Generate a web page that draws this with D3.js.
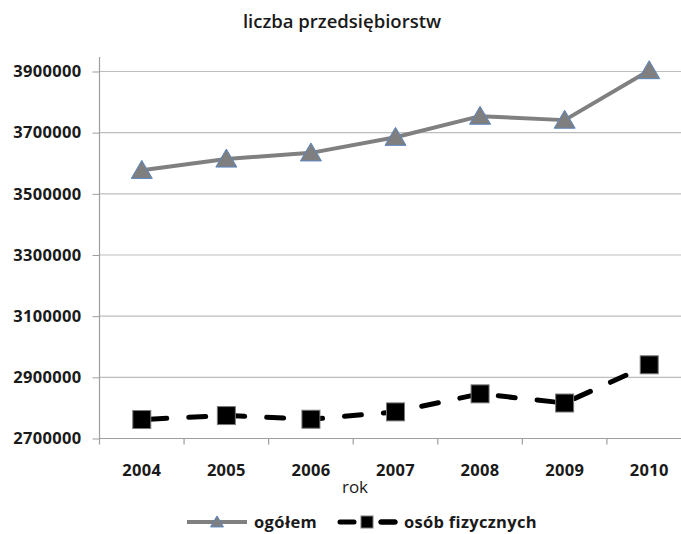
<!DOCTYPE html>
<html>
<head>
<meta charset="utf-8">
<script src="https://cdn.jsdelivr.net/npm/d3@7"></script>
<style>
  html, body { margin: 0; padding: 0; background: #fff; }
  svg { display: block; }
  text { font-family: "Open Sans", "Liberation Sans", sans-serif; fill: #1a1a1a; }
</style>
</head>
<body>
<svg id="chart" width="681" height="534"></svg>
<script>
const years = ["2004", "2005", "2006", "2007", "2008", "2009", "2010"];
const ogolem = [3577000, 3614000, 3634000, 3685000, 3754000, 3741000, 3903000];
const osobFizycznych = [2762000, 2775000, 2763000, 2787000, 2846000, 2816000, 2941000];
const yTicks = [2700000, 2900000, 3100000, 3300000, 3500000, 3700000, 3900000];
const title = "liczba przedsiębiorstw";
const xTitle = "rok";
const seriesNames = ["ogółem", "osób fizycznych"];

(function () {
const svg = d3.select("#chart");
const pLeft = 99.5, pRight = 691.5, pTop = 71.5, pBottom = 438.5;
const FS = "16.5px";

const x = d3.scaleBand().domain(years).range([pLeft, pRight]).padding(0);
const y = d3.scaleLinear().domain([2700000, 3900000]).range([pBottom, pTop]);
const cx = d => x(d) + x.bandwidth() / 2;

// title
svg.append("text").attr("x", 342).attr("y", 28).attr("text-anchor", "middle")
  .style("font-size", "18.5px").style("font-weight", 600).text(title);

// gridlines
svg.append("g").selectAll("line").data(yTicks.filter(t => t !== 2700000)).join("line")
  .attr("x1", pLeft).attr("x2", 681).attr("y1", d => y(d)).attr("y2", d => y(d))
  .attr("stroke", "#bdbdbd").attr("stroke-width", 1.2);

// y axis
const yAxis = svg.append("g").attr("transform", `translate(${pLeft},0)`)
  .call(d3.axisLeft(y).tickValues(yTicks).tickSize(7).tickPadding(11).tickFormat(d3.format("d")));
yAxis.select(".domain").remove();
yAxis.selectAll(".tick line").attr("stroke", "#9e9e9e");
yAxis.selectAll("text").style("font-size", FS).style("font-weight", 700)
  .style("letter-spacing", "0.3px").attr("fill", "#1a1a1a").style("font-family", '"Open Sans", sans-serif');
svg.append("line").attr("x1", pLeft).attr("x2", pLeft).attr("y1", 57).attr("y2", pBottom)
  .attr("stroke", "#9e9e9e").attr("stroke-width", 1.2);

// x axis
const xAxis = svg.append("g").attr("transform", `translate(0,${pBottom})`)
  .call(d3.axisBottom(x).tickSize(0).tickPadding(26));
xAxis.select(".domain").remove();
xAxis.selectAll("text").style("font-size", FS).style("font-weight", 700)
  .style("letter-spacing", "0.3px").attr("fill", "#1a1a1a").style("font-family", '"Open Sans", sans-serif');
svg.append("line").attr("x1", pLeft).attr("x2", 681).attr("y1", pBottom).attr("y2", pBottom)
  .attr("stroke", "#9e9e9e").attr("stroke-width", 1.2);
svg.append("g").selectAll("line").data(years).join("line")
  .attr("x1", d => x(d)).attr("x2", d => x(d)).attr("y1", pBottom).attr("y2", pBottom + 6)
  .attr("stroke", "#9e9e9e").attr("stroke-width", 1.2);

svg.append("text").attr("x", 355).attr("y", 493).attr("text-anchor", "middle")
  .style("font-size", "17px").text(xTitle);

// lines
const line = d3.line().x((d, i) => cx(years[i])).y(d => y(d));
svg.append("path").datum(ogolem).attr("d", line).attr("fill", "none")
  .attr("stroke", "#808080").attr("stroke-width", 4).attr("stroke-linejoin", "round");
svg.append("path").datum(osobFizycznych).attr("d", line).attr("fill", "none")
  .attr("stroke", "#000").attr("stroke-width", 5).attr("stroke-linecap", "round")
  .attr("stroke-dasharray", "17,22").attr("stroke-dashoffset", -8);

// markers
const tri = (w, h) => `M0,${-h * 0.55}L${w / 2},${h * 0.45}L${-w / 2},${h * 0.45}Z`;
svg.append("g").selectAll("path").data(ogolem).join("path")
  .attr("transform", (d, i) => `translate(${cx(years[i])},${y(d)})`)
  .attr("d", tri(21, 18)).attr("fill", "#7f7f7f").attr("stroke", "#5b86c0").attr("stroke-width", 1);
svg.append("g").selectAll("rect").data(osobFizycznych).join("rect")
  .attr("x", (d, i) => cx(years[i]) - 9).attr("y", d => y(d) - 9)
  .attr("width", 18).attr("height", 18).attr("fill", "#000").attr("stroke", "#7a7a7a").attr("stroke-width", 1);

// legend
const ly = 522;
const lg = svg.append("g");
lg.append("line").attr("x1", 187).attr("x2", 247).attr("y1", ly).attr("y2", ly)
  .attr("stroke", "#808080").attr("stroke-width", 4);
lg.append("path").attr("transform", `translate(217,${ly})`).attr("d", tri(13, 11))
  .attr("fill", "#7f7f7f").attr("stroke", "#5b86c0").attr("stroke-width", 1);
lg.append("text").attr("x", 254).attr("y", ly + 6).style("font-size", FS).style("font-weight", 700)
  .style("letter-spacing", "0.4px").text(seriesNames[0]);
lg.append("line").attr("x1", 340).attr("x2", 395).attr("y1", ly).attr("y2", ly)
  .attr("stroke", "#000").attr("stroke-width", 5).attr("stroke-linecap", "round")
  .attr("stroke-dasharray", "14,27");
lg.append("line").attr("x1", 381).attr("x2", 395).attr("y1", ly).attr("y2", ly)
  .attr("stroke", "#000").attr("stroke-width", 5).attr("stroke-linecap", "round");
lg.append("rect").attr("x", 361).attr("y", ly - 6).attr("width", 12).attr("height", 12)
  .attr("fill", "#000").attr("stroke", "#7a7a7a").attr("stroke-width", 1);
lg.append("text").attr("x", 404).attr("y", ly + 6).style("font-size", FS).style("font-weight", 700)
  .style("letter-spacing", "0.3px").text(seriesNames[1]);
})();
</script>
</body>
</html>
